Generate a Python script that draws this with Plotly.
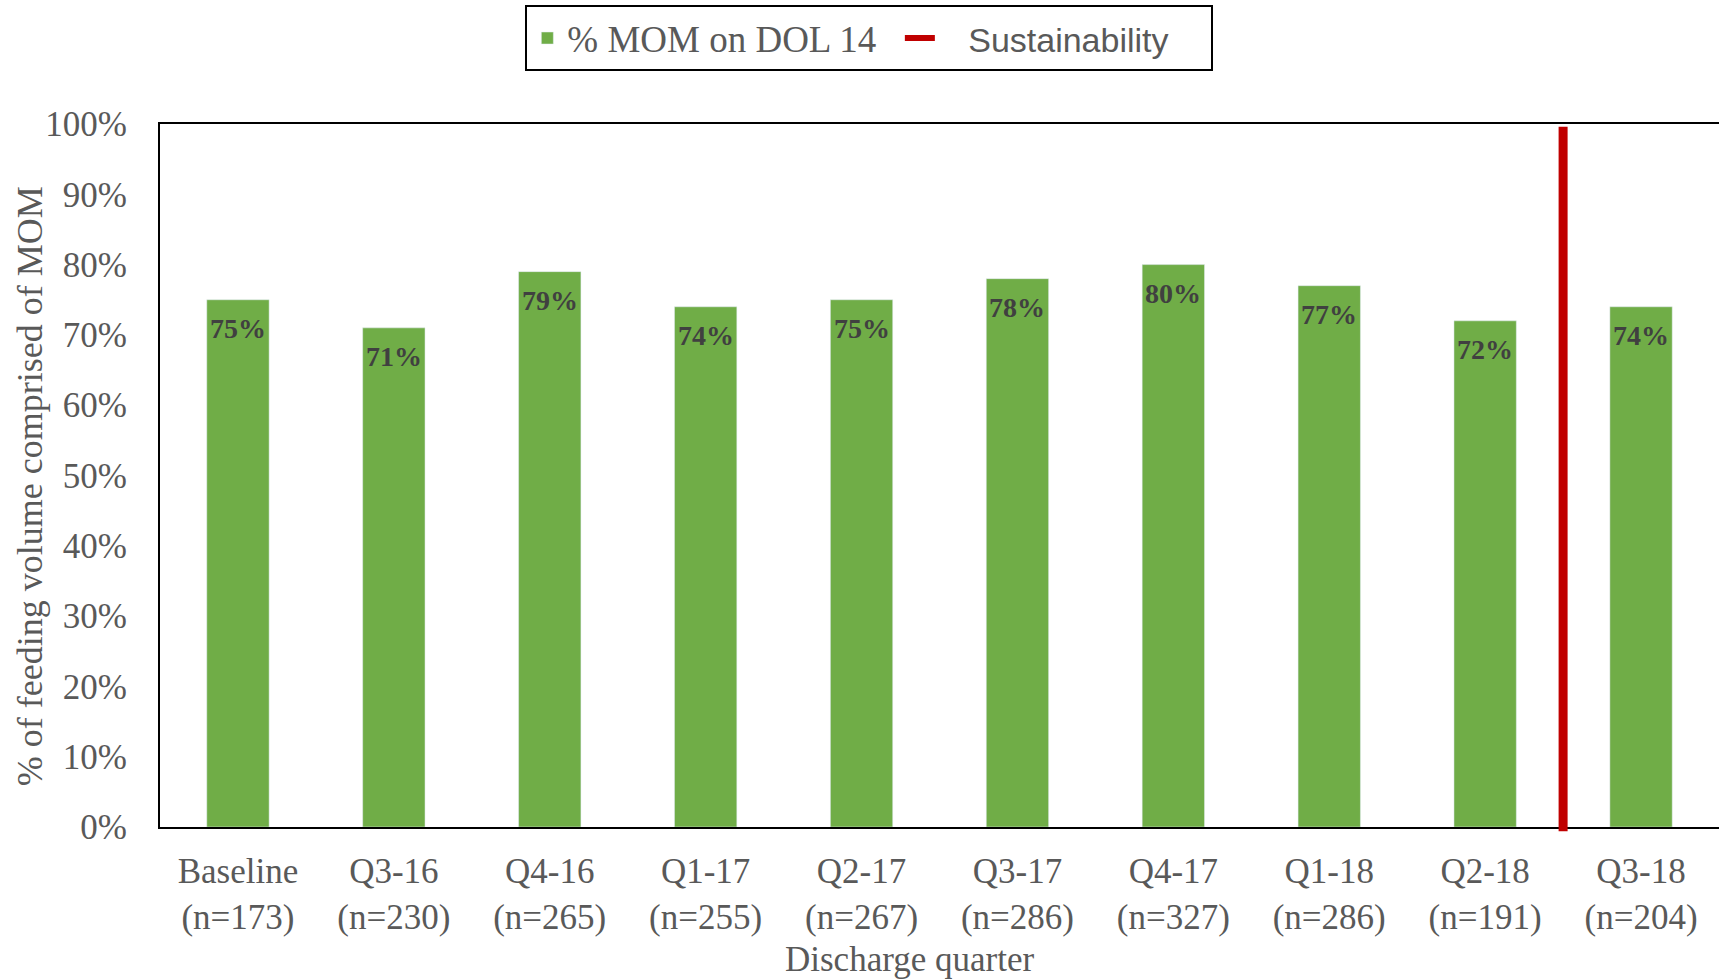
import plotly.graph_objects as go

quarters = ["Baseline", "Q3-16", "Q4-16", "Q1-17", "Q2-17", "Q3-17", "Q4-17", "Q1-18", "Q2-18", "Q3-18"]
n_counts = [173, 230, 265, 255, 267, 286, 327, 286, 191, 204]
mom_pct = [75, 71, 79, 74, 75, 78, 80, 77, 72, 74]
sustain_after = "Q2-18"  # sustainability phase starts after this quarter

labels = [f"{q}<br>(n={n})" for q, n in zip(quarters, n_counts)]
serif = "Liberation Serif, Times New Roman, serif"
grey = "#595959"
nb = "\u00a0"

fig = go.Figure()
fig.add_trace(go.Bar(x=labels, y=mom_pct, name="% MOM on DOL 14" + nb * 2,
                     marker=dict(color="#70AD47"), width=0.4))
fig.add_trace(go.Scatter(x=[None], y=[None], mode="lines",
                         name="<span style='font-family:Liberation Sans;font-size:34px'>"
                              + nb * 3 + "Sustainability" + nb * 4 + "</span>",
                         line=dict(color="#C00000", width=6)))

# bar values inside the top of each bar
for lab, v in zip(labels, mom_pct):
    fig.add_annotation(x=lab, y=v, text=f"<b>{v}%</b>", showarrow=False, yanchor="middle", yshift=-29,
                       font=dict(family=serif, size=28, color="#404040"))

# sustainability marker
sx = quarters.index(sustain_after) + 0.5
fig.add_shape(type="line", xref="x", yref="paper", x0=sx, x1=sx, y0=-0.006, y1=0.996,
              line=dict(color="#C00000", width=9), layer="above")

fig.add_annotation(text="Discharge quarter", xref="paper", yref="paper", x=0.481, y=-0.188,
                   showarrow=False, yanchor="middle", font=dict(family=serif, size=35, color=grey))
fig.add_annotation(text="% of feeding volume comprised of MOM", xref="paper", yref="paper",
                   x=-0.0833, y=0.485, textangle=-90, showarrow=False, xanchor="center", yanchor="middle",
                   font=dict(family=serif, size=36, color=grey))

fig.update_layout(
    width=1719, height=979,
    margin=dict(l=160, r=0, t=124, b=152),
    plot_bgcolor="white", paper_bgcolor="white",
    font=dict(family=serif, size=35, color=grey),
    bargap=0.6,
    legend=dict(orientation="h", x=0.455, xanchor="center", y=1.1686, yanchor="top",
                bordercolor="black", borderwidth=2,
                font=dict(family=serif, size=37, color=grey)),
    xaxis=dict(showline=True, linecolor="black", linewidth=2, mirror=True, ticklabelstandoff=12,
               tickfont=dict(family=serif, size=35, color=grey), ticks="", range=[-0.5, 9.5]),
    yaxis=dict(showline=True, linecolor="black", linewidth=2, range=[0, 100], dtick=10, ticksuffix="%",
               showgrid=False, zeroline=False, ticklabelstandoff=24,
               tickfont=dict(family=serif, size=35, color=grey)),
)

fig.write_html("out.html", config={"displayModeBar": False},
               post_script="document.body.style.margin='0';")
